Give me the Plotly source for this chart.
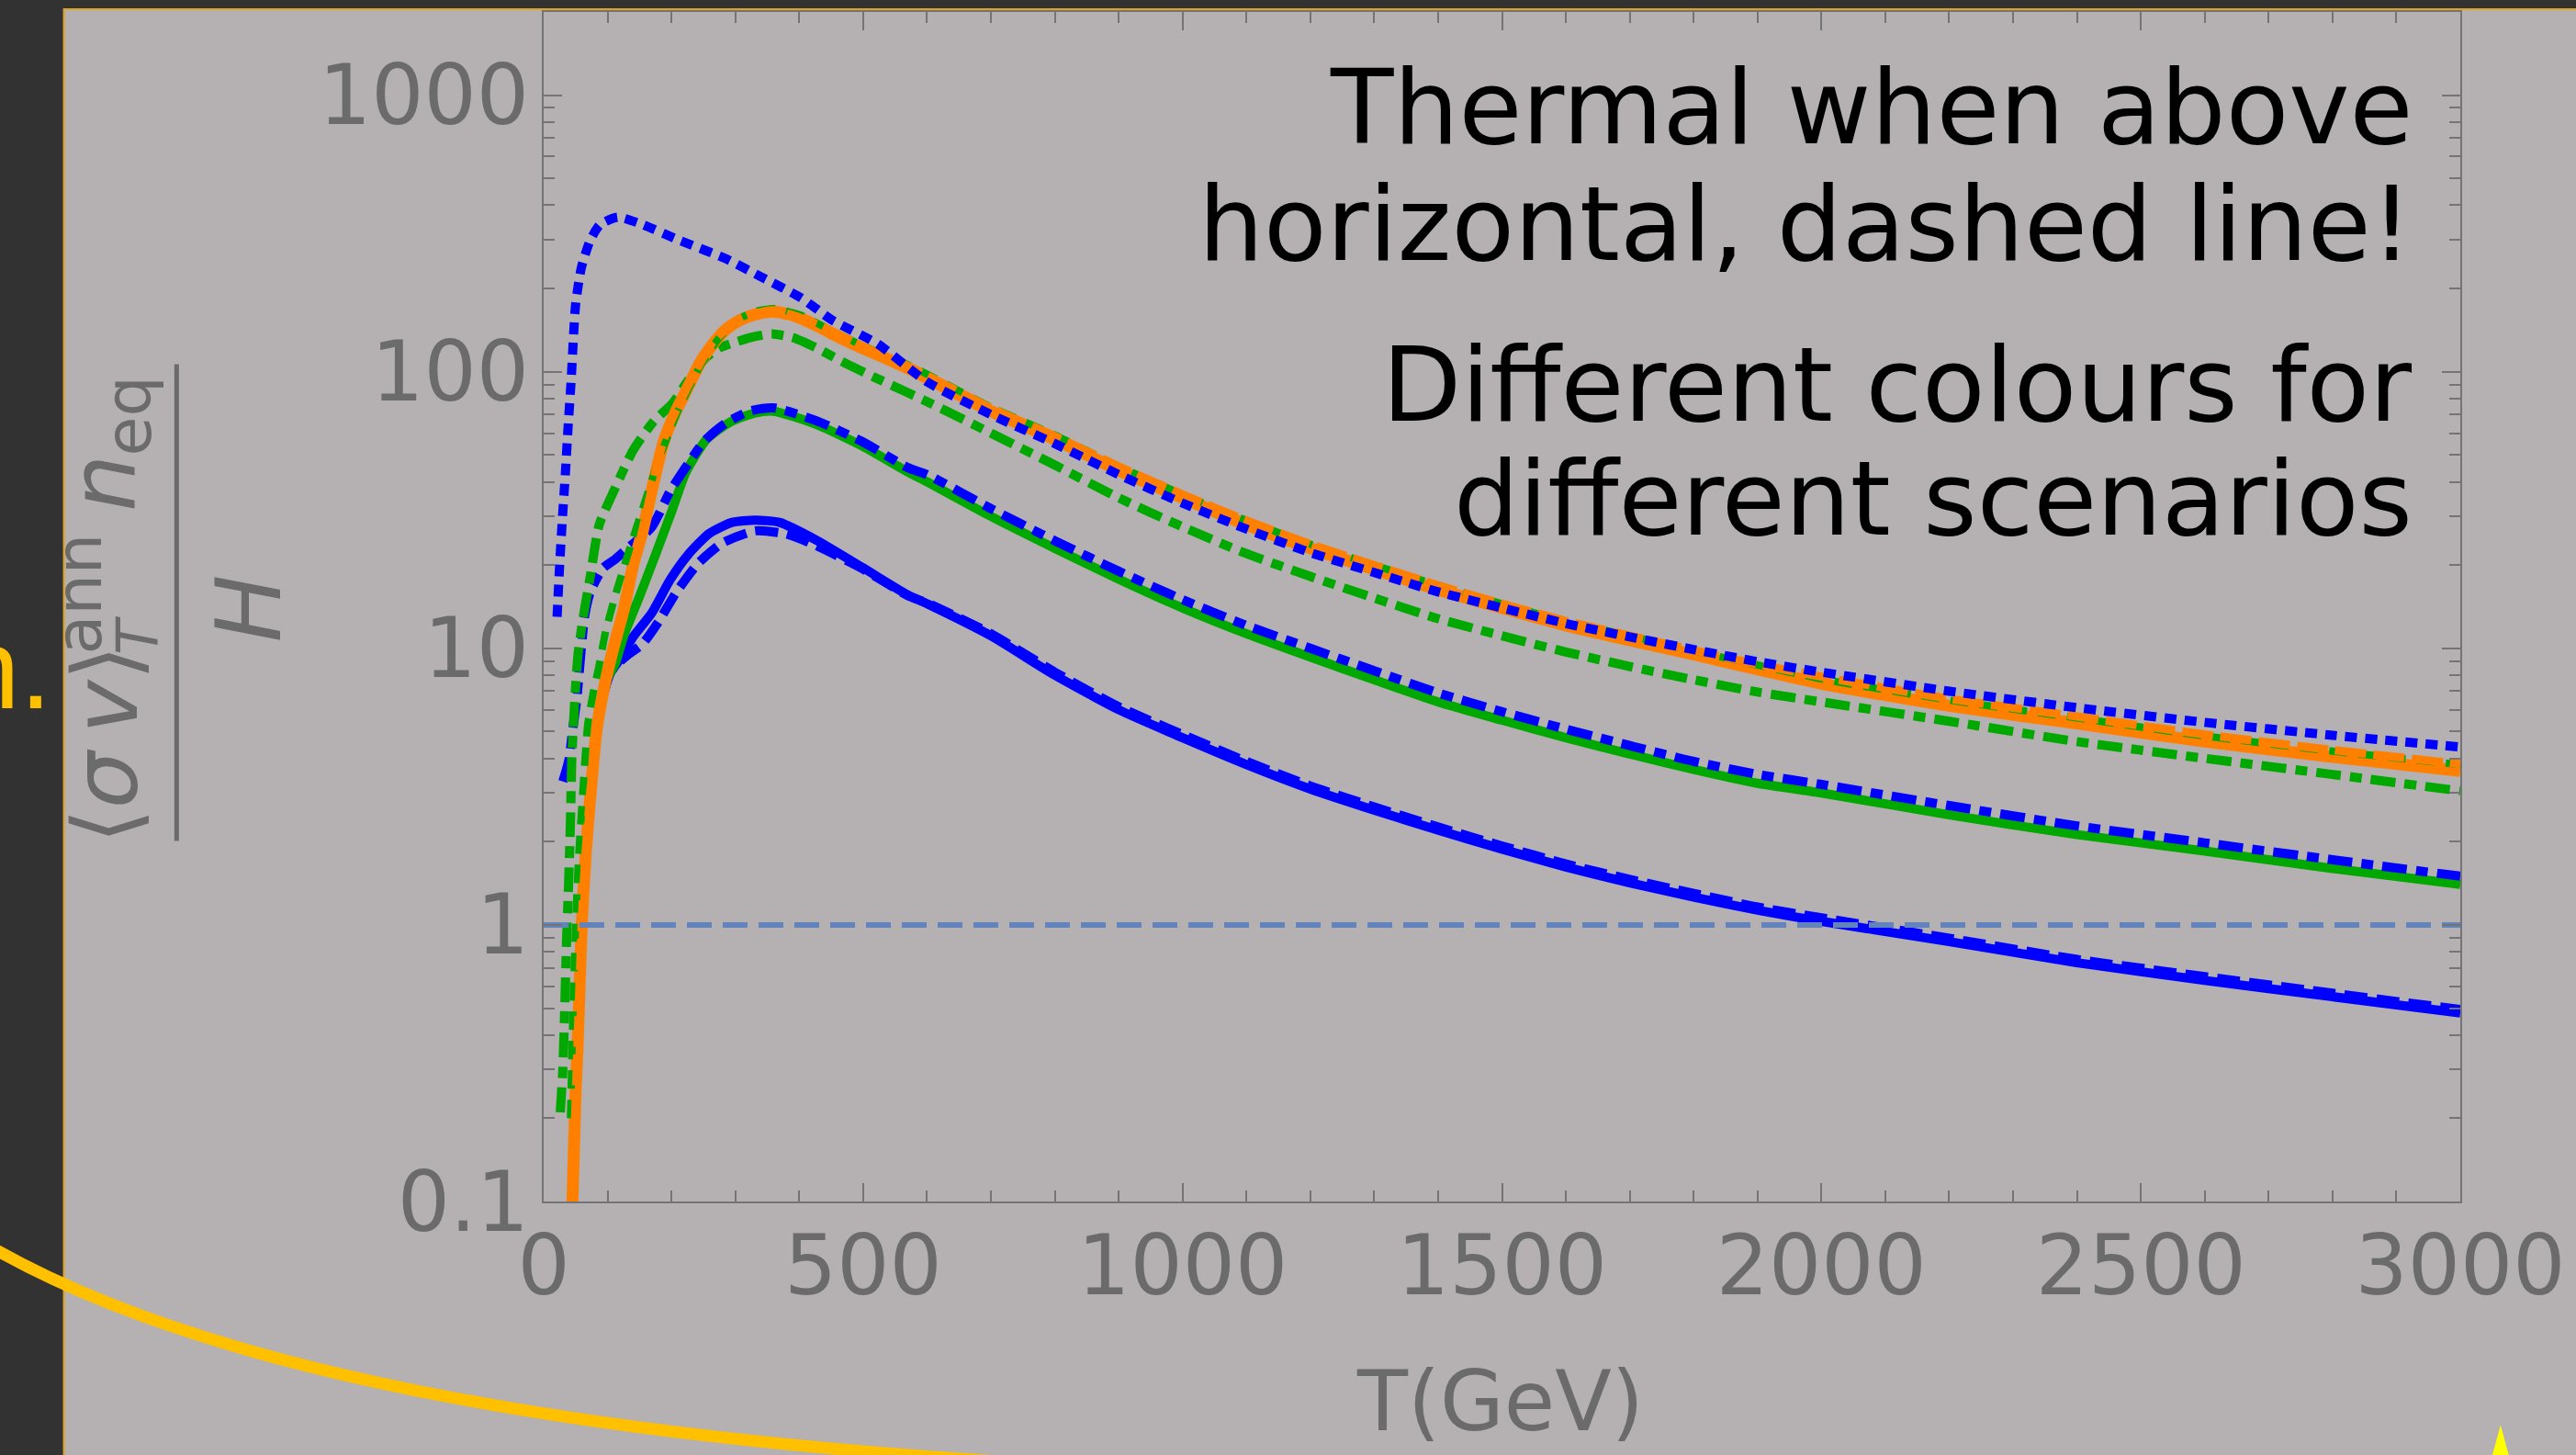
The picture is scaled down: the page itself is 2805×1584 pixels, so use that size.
import plotly.graph_objects as go

# ---------------- data ----------------
x_ticks = [0, 500, 1000, 1500, 2000, 2500, 3000]
x_ticktext = ["0", "500", "1000", "1500", "2000", "2500", "3000"]
y_ticks = [0.1, 1, 10, 100, 1000]
y_ticktext = ["0.1", "1", "10", "100", "1000"]

tail_T = [600, 700, 800, 900, 1000, 1100, 1200, 1300, 1400, 1500, 1600, 1700,
          1800, 1900, 2000, 2200, 2400, 2600, 2800, 3000]

blue_solid_T = [45, 53, 60, 66, 83, 95, 105, 116, 140, 169, 198, 226, 259, 294, 331, 370, 427, 499, 570] + tail_T
blue_solid_V = [0.1, 0.36, 1.05, 1.84, 5.1, 7.0, 8.2, 8.9, 11, 13.4, 17.7, 21.8, 26, 28.5, 29.1, 28.5, 24.6, 19.6, 15.6,
                14.5, 11.1, 8.0, 6.0, 4.75, 3.8, 3.1, 2.6, 2.2, 1.88, 1.62, 1.42, 1.26, 1.13, 1.03, 0.87, 0.73, 0.63, 0.55, 0.48]

blue_dashed_T = [45, 53, 60, 66, 83, 95, 105, 116, 130, 155, 179, 208, 241, 279, 331, 380, 427, 499, 570] + tail_T
blue_dashed_V = [0.1, 0.36, 1.05, 1.84, 5.1, 7.0, 8.2, 8.8, 9.4, 10.4, 12.4, 16, 20.2, 24, 26.6, 25.9, 23.5, 19.4, 15.5,
                 14.6, 11.3, 8.2, 6.15, 4.88, 3.9, 3.18, 2.67, 2.26, 1.93, 1.66, 1.46, 1.3, 1.16, 1.06, 0.895, 0.75, 0.65, 0.566, 0.494]

green_solid_T = [45, 53, 60, 66, 83, 100, 112, 126, 150, 175, 202, 222, 255, 293, 331, 360, 427, 498, 570] + tail_T
green_solid_V = [0.1, 0.36, 1.05, 1.84, 5.1, 7.8, 8.8, 11.2, 15.4, 21.8, 32, 43, 57, 66, 71, 72, 64.5, 54, 43.4,
                 40, 30, 23, 17.8, 14, 11.3, 9.3, 7.7, 6.4, 5.5, 4.75, 4.15, 3.65, 3.25, 3.0, 2.5, 2.12, 1.85, 1.6, 1.4]

blue_dashdot_T = [30, 35, 40, 45, 52, 58, 64, 73, 93, 112, 136, 169, 198, 222, 251, 284, 322, 360, 427, 498, 570] + tail_T
blue_dashdot_V = [3.3, 3.6, 4.0, 5.0, 6.6, 9.5, 13, 16, 19.5, 21, 23.5, 27.4, 37, 45, 56, 65, 72, 74, 66.5, 56, 45,
                  42.5, 32, 24.5, 19, 15, 12.1, 10, 8.3, 6.9, 5.9, 5.1, 4.45, 3.9, 3.5, 3.22, 2.7, 2.28, 1.98, 1.72, 1.5]

green_dashdot_T = [26, 30, 33, 36, 39, 42, 44, 47, 50, 54, 62, 73, 87, 112, 140, 173, 202, 226, 255, 275, 300, 330,
                   357, 390, 427, 470, 520, 570] + tail_T
green_dashdot_V = [0.21, 0.3, 0.5, 0.9, 1.4, 2.4, 4.0, 5.5, 7.3, 9.6, 13, 18.2, 28, 38, 52, 66.5, 77, 93, 113, 122, 128, 134,
                   137, 133, 122, 108, 95, 84,
                   78, 60, 46, 35, 27.5, 22, 18.2, 15.2, 12.8, 11.1, 9.7, 8.6, 7.7, 6.95, 6.4, 5.45, 4.6, 4.0, 3.5, 3.05]

orange_solid_T = [45, 50, 53, 57, 60, 66, 75, 83, 95, 107, 126, 140, 155, 170, 188, 207, 226, 245, 265, 285, 308, 335,
                  360, 390, 427, 460, 498, 535, 570] + tail_T
orange_solid_V = [0.1, 0.25, 0.36, 0.68, 1.05, 1.84, 3.3, 5.1, 7.3, 9.6, 14, 20, 26.6, 38, 56, 72, 88, 108, 126, 142, 154, 162,
                  165, 160, 147, 134, 122, 112, 103,
                  95, 72, 57, 44, 35, 28, 23, 19.3, 16.3, 14.0, 12.1, 10.7, 9.5, 8.4, 7.45, 6.2, 5.35, 4.6, 4.05, 3.6]

green_dashed_T = [42, 46, 50, 55, 62, 69, 78, 86, 97, 112, 136, 155, 180, 210, 245, 274, 305, 335, 360, 400, 450, 500, 570] + tail_T
green_dashed_V = [0.2, 0.5, 1.0, 1.8, 3.2, 5.3, 7.0, 8.5, 11.5, 15.5, 23.5, 32, 48, 72, 105, 132, 155, 166, 169, 161, 141, 124, 106,
                  98, 74.5, 59, 45.5, 36, 29, 23.8, 20, 16.9, 14.5, 12.5, 11.1, 9.8, 8.7, 7.75, 6.5, 5.6, 4.82, 4.25, 3.8]

orange_dashed_T = [45, 53, 60, 66, 83, 107, 126, 155, 188, 226, 265, 308, 360, 427, 498, 570] + tail_T
orange_dashed_V = [0.1, 0.37, 1.07, 1.88, 5.2, 9.8, 14.3, 27, 57, 89, 128, 156, 167, 149, 124, 105,
                   97, 74, 58.5, 45.5, 36, 29, 23.8, 20, 16.9, 14.5, 12.55, 11.1, 9.85, 8.75, 7.9, 6.57, 5.67, 4.88, 4.29, 3.82]

blue_dotted_T = [21, 25, 29, 34, 38, 43, 50, 59, 73, 88, 116, 150, 212, 284, 341, 403, 451, 523] + tail_T
blue_dotted_V = [13, 20, 28.7, 43, 62, 93, 175, 238, 299, 340, 362, 344, 299, 257, 220, 185, 154, 126,
                 92, 70, 55, 42.5, 33.5, 27, 22.2, 18.8, 16, 14, 12.3, 11.0, 9.9, 8.95, 8.2, 7.0, 6.1, 5.4, 4.85, 4.4]

threshold_T = [0, 3000]
threshold_V = [1, 1]

text_lines = ["Thermal when above", "horizontal, dashed line!", "Different colours for", "different scenarios"]

# ---------------- styles ----------------
BLUE = "#0000ff"
GREEN = "#00a800"
ORANGE = "#ff8000"
GREY_TXT = "#6b6b6b"
AXIS = "#747474"
BG = "#b5b0b1"
DARK = "#323232"
GOLD = "#ffc000"

W, H = 2805, 1584
PL, PR, PT, PB = 592, 2686, 11, 1308


def px(x):
    return (x - PL) / (PR - PL)


def py(y):
    return (PB - y) / (PB - PT)


fig = go.Figure()

series = [
    (blue_solid_T, blue_solid_V, BLUE, 10, "solid"),
    (blue_dashed_T, blue_dashed_V, BLUE, 10, "25px,10px"),
    (green_solid_T, green_solid_V, GREEN, 10, "solid"),
    (blue_dashdot_T, blue_dashdot_V, BLUE, 10, "27px,10px,13px,10px"),
    (green_dashdot_T, green_dashdot_V, GREEN, 10, "27px,10px,13px,10px"),
    (orange_solid_T, orange_solid_V, ORANGE, 13, "solid"),
    (green_dashed_T, green_dashed_V, GREEN, 8, "20px,12px"),
    (orange_dashed_T, orange_dashed_V, ORANGE, 9, "34px,8px"),
    (blue_dotted_T, blue_dotted_V, BLUE, 10, "13px,9px"),
]
for t, v, c, w, d in series:
    fig.add_trace(go.Scatter(x=t, y=v, mode="lines",
                             line=dict(color=c, width=w, dash=d, shape="spline", smoothing=0.6),
                             showlegend=False, hoverinfo="skip"))

fig.add_trace(go.Scatter(x=threshold_T, y=threshold_V, mode="lines",
                         line=dict(color="#6283bb", width=6, dash="27px,12px"),
                         showlegend=False, hoverinfo="skip"))

tickfont = dict(family="DejaVu Sans", size=90, color=GREY_TXT)

fig.update_xaxes(range=[0, 3000], tickmode="array", tickvals=x_ticks, ticktext=x_ticktext,
                 ticks="inside", ticklen=20, tickwidth=2, tickcolor=AXIS,
                 minor=dict(dtick=100, ticks="inside", ticklen=12, tickwidth=2, tickcolor=AXIS, showgrid=False),
                 showline=True, linecolor=AXIS, linewidth=2, mirror="allticks",
                 showgrid=False, zeroline=False, tickfont=tickfont, ticklabelstandoff=-9)
fig.update_yaxes(type="log", range=[-1, 3.30103], tickmode="array", tickvals=y_ticks, ticktext=y_ticktext,
                 ticks="inside", ticklen=20, tickwidth=2, tickcolor=AXIS,
                 minor=dict(dtick="D1", ticks="inside", ticklen=12, tickwidth=2, tickcolor=AXIS, showgrid=False),
                 showline=True, linecolor=AXIS, linewidth=2, mirror="allticks",
                 showgrid=False, zeroline=False, tickfont=tickfont, ticklabelstandoff=-4)

shapes = [
    dict(type="rect", xref="paper", yref="paper", x0=px(-10), x1=px(67), y0=py(1600), y1=py(-10),
         fillcolor=DARK, line=dict(width=0), layer="below"),
    dict(type="rect", xref="paper", yref="paper", x0=px(-10), x1=px(2820), y0=py(7), y1=py(-10),
         fillcolor=DARK, line=dict(width=0), layer="below"),
    dict(type="line", xref="paper", yref="paper", x0=px(68), x1=px(68), y0=py(8), y1=py(1600),
         line=dict(color="#e0a31c", width=2)),
    dict(type="line", xref="paper", yref="paper", x0=px(68), x1=px(2820), y0=py(8), y1=py(8),
         line=dict(color="#e0a31c", width=2)),
    dict(type="path", xref="paper", yref="paper",
         path=f"M {px(-30)},{py(1347)} Q {px(290)},{py(1542)} {px(1100)},{py(1592)}",
         line=dict(color=GOLD, width=13)),
    dict(type="path", xref="paper", yref="paper",
         path=f"M {px(2719)},{py(1592)} L {px(2730)},{py(1552)} L {px(2741)},{py(1592)} Z",
         fillcolor="#ffff00", line=dict(width=0)),
    # fraction bar of the y-axis title
    dict(type="line", xref="paper", yref="paper", x0=px(191), x1=px(191), y0=py(395), y1=py(915),
         line=dict(color=GREY_TXT, width=5)),
]

annotations = []
# explanatory text
baselines = [154, 281, 456, 581]
for line, b in zip(text_lines, baselines):
    annotations.append(dict(xref="paper", yref="paper", x=px(2636), y=py(b - 0.346 * 112),
                            xanchor="right", yanchor="middle", showarrow=False, text=line,
                            font=dict(family="DejaVu Sans", size=112, color="black")))
# x axis title
annotations.append(dict(xref="paper", yref="paper", x=px(1637), y=py(1557 - 0.346 * 90),
                        xanchor="center", yanchor="middle", showarrow=False, text="T(GeV)",
                        font=dict(family="DejaVu Sans", size=90, color=GREY_TXT)))
# y axis title pieces (rotated)
ytitle = [
    ("⟨<i>σ</i>\u2009<i>v</i>⟩", 98, 147, 810),
    ("ann", 70, 109, 645),
    ("<i>T</i>", 62, 170, 691),
    ("<i>n</i>", 98, 145, 525),
    ("eq", 70, 163, 451),
    ("<i>H</i>", 98, 304, 661),
]
for txt, fs, base, cy in ytitle:
    annotations.append(dict(xref="paper", yref="paper", x=px(base - 0.346 * fs), y=py(cy),
                            xanchor="center", yanchor="middle", showarrow=False, text=txt, textangle=-90,
                            font=dict(family="DejaVu Sans", size=fs, color=GREY_TXT)))
# slide fragment at the left edge
annotations.append(dict(xref="paper", yref="paper", x=px(56), y=py(770 - 0.347 * 125),
                        xanchor="right", yanchor="middle", showarrow=False, text="n.",
                        font=dict(family="Liberation Sans", size=125, color=GOLD)))

fig.update_layout(width=W, height=H, autosize=False,
                  margin=dict(l=PL, r=W - PR, t=PT, b=H - PB, pad=0),
                  paper_bgcolor=BG, plot_bgcolor=BG,
                  shapes=shapes, annotations=annotations, showlegend=False)

fig.write_html("out.html", config={"displayModeBar": False},
               post_script="document.body.style.margin='0';document.body.style.overflow='hidden';")
